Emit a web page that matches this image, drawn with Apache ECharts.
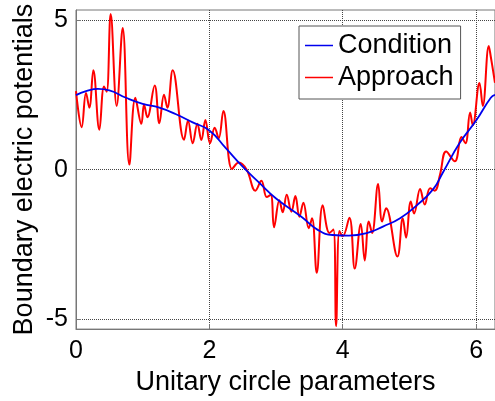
<!DOCTYPE html>
<html>
<head>
<meta charset="utf-8">
<script src="https://cdn.jsdelivr.net/npm/echarts@6/dist/echarts.min.js"></script>
<style>
  html, body { margin: 0; padding: 0; background: #fff; }
  #chart { width: 495px; height: 401px; }
</style>
</head>
<body>
<div id="chart"></div>
<script>
// smooth reference curve (Condition)
const condX = [0, 0.15, 0.33, 0.5, 0.75, 1.0, 1.25, 1.5, 1.75, 2.0, 2.25, 2.5, 2.75, 3.0, 3.38, 3.62, 3.85, 4.09, 4.37, 4.61, 4.86, 5.11, 5.36, 5.5, 5.75, 6.0, 6.22, 6.283];
const condY = [2.49, 2.62, 2.70, 2.65, 2.40, 2.20, 2.07, 1.85, 1.58, 1.31, 0.71, 0.10, -0.44, -0.96, -1.57, -2.0, -2.18, -2.2, -2.11, -1.89, -1.62, -1.19, -0.64, -0.1, 0.88, 1.64, 2.4, 2.5];

// noisy curve (Approach)
const apprX = [0, 0.085, 0.15, 0.20, 0.26, 0.35, 0.42, 0.46, 0.52, 0.61, 0.70, 0.80, 0.89, 0.98, 1.02, 1.07, 1.18, 1.25, 1.32, 1.37, 1.45, 1.62, 1.68, 1.75, 1.82, 1.88, 1.94, 2.01, 2.08, 2.14, 2.21, 2.34, 2.44, 2.56, 2.69, 2.78, 2.86, 2.92, 2.97, 3.05, 3.10, 3.16, 3.23, 3.29, 3.35, 3.41, 3.49, 3.54, 3.61, 3.70, 3.80, 3.86, 3.90, 3.95, 4.00, 4.10, 4.18, 4.27, 4.33, 4.39, 4.44, 4.53, 4.59, 4.65, 4.82, 4.90, 4.95, 5.02, 5.07, 5.16, 5.23, 5.31, 5.38, 5.46, 5.55, 5.68, 5.78, 5.84, 5.91, 5.95, 6.05, 6.10, 6.19, 6.22, 6.283];
const apprY = [2.62, 1.42, 2.56, 2.07, 3.32, 1.33, 2.78, 2.6, 5.2, 2.13, 4.73, 0.17, 2.4, 1.53, 2.18, 1.75, 2.81, 1.55, 2.5, 2.07, 3.32, 1.0, 1.64, 0.88, 1.53, 0.99, 1.66, 0.88, 1.4, 1.05, 1.96, 0.02, 0.24, 0.0, -0.70, -0.37, -0.91, -0.84, -1.92, -1.02, -1.42, -0.84, -1.40, -0.88, -1.57, -1.10, -1.95, -1.62, -3.44, -1.19, -2.11, -2.0, -5.22, -2.05, -2.22, -1.60, -3.30, -1.81, -3.03, -1.73, -2.11, -0.48, -1.73, -1.29, -2.90, -1.62, -2.27, -1.06, -1.46, -0.64, -1.16, -0.62, -0.7, -0.15, 0.61, 0.28, 1.09, 0.88, 1.91, 1.48, 2.89, 2.13, 4.13, 3.77, 2.9];

const xTicks = [0, 2, 4, 6];
const yTicks = [-5, 0, 5];

const font = 'Liberation Sans, Arial, Helvetica, sans-serif';
const chart = echarts.init(document.getElementById('chart'), null, { renderer: 'canvas' });

const gridLine = { show: true, lineStyle: { color: '#444', type: 'dotted', width: 1 } };

chart.setOption({
  backgroundColor: '#fff',
  animation: false,
  grid: {
    left: 76, top: 10, right: -4, bottom: 64,
    show: true, borderColor: '#777', borderWidth: 1, backgroundColor: '#fff'
  },
  legend: {
    orient: 'vertical',
    left: 299, top: 26,
    padding: [6, 7, 8, 6],
    itemGap: 5,
    itemWidth: 28, itemHeight: 1.5,
    icon: 'rect',
    backgroundColor: '#fff',
    borderColor: '#555', borderWidth: 1, borderRadius: 0,
    textStyle: { fontFamily: font, fontSize: 27, color: '#000' },
    data: ['Condition', 'Approach']
  },
  xAxis: {
    type: 'value',
    min: 0, max: 6.2832,
    name: 'Unitary circle parameters',
    nameLocation: 'middle', nameGap: 32,
    nameTextStyle: { fontFamily: font, fontSize: 27, color: '#000' },
    axisLine: { show: true, onZero: false, lineStyle: { color: '#777' } },
    axisTick: { show: true, inside: true, length: 5, customValues: xTicks, lineStyle: { color: '#777' } },
    axisLabel: { customValues: xTicks, margin: 10, fontFamily: font, fontSize: 25, color: '#000' },
    splitLine: gridLine
  },
  yAxis: {
    type: 'value',
    min: -5.32, max: 5.33,
    name: 'Boundary electric potentials',
    nameLocation: 'middle', nameGap: 38,
    nameMoveOverlap: false,
    nameTextStyle: { fontFamily: font, fontSize: 27, color: '#000' },
    axisLine: { show: true, onZero: false, lineStyle: { color: '#777' } },
    axisTick: { show: true, inside: true, length: 5, customValues: yTicks, lineStyle: { color: '#777' } },
    axisLabel: { customValues: yTicks, margin: 8, fontFamily: font, fontSize: 25, color: '#000' },
    splitLine: gridLine
  },
  series: [
    {
      name: 'Condition',
      type: 'line',
      data: condX.map((x, i) => [x, condY[i]]),
      smooth: true,
      symbol: 'none',
      z: 3,
      itemStyle: { color: '#0000ee' },
      lineStyle: { color: '#0000ee', width: 1.8 }
    },
    {
      name: 'Approach',
      type: 'line',
      data: apprX.map((x, i) => [x, apprY[i]]),
      smooth: 0.4,
      symbol: 'none',
      z: 2,
      itemStyle: { color: '#ff0000' },
      lineStyle: { color: '#ff0000', width: 2 }
    }
  ]
});
</script>
</body>
</html>
